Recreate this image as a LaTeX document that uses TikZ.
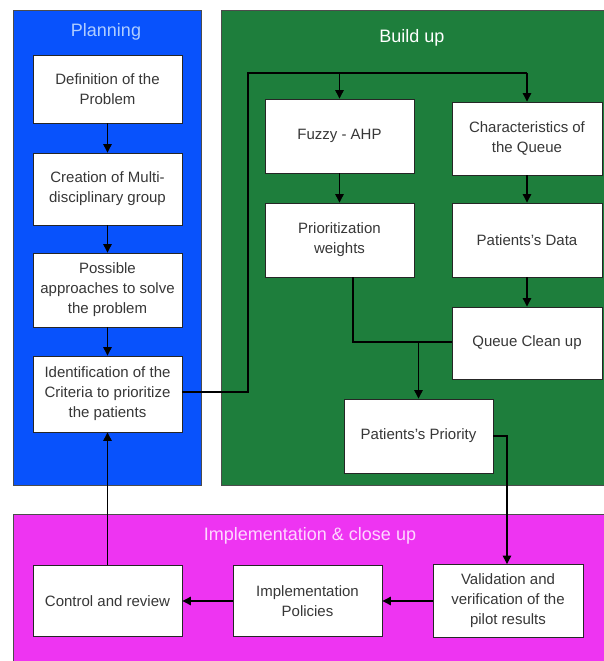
\documentclass[tikz,border=0pt]{standalone}
\usepackage{fontspec}
\setmainfont{Liberation Sans}
\usetikzlibrary{arrows.meta}
\definecolor{planblue}{RGB}{8,82,252}
\definecolor{buildgreen}{RGB}{30,126,60}
\definecolor{implmag}{RGB}{238,52,242}
\definecolor{boxtext}{RGB}{55,55,55}
\definecolor{titleblue}{RGB}{175,205,255}
\definecolor{titlepink}{RGB}{255,215,255}
\begin{document}
\begin{tikzpicture}[x=1pt,y=-1pt,
  panel/.style={draw=black!70,line width=0.8pt},
  stepbox/.style={draw=black!85,fill=white,line width=0.9pt,minimum width=149pt,
    align=center,text=boxtext,font=\fontsize{15}{20}\selectfont,inner sep=2pt},
  paneltitle/.style={font=\fontsize{18}{22}\selectfont},
  link/.style={draw=black,line width=1.2pt},
  arr/.style={link,-{Triangle[length=8.5pt,width=8.5pt]}}]
\useasboundingbox (0,0) rectangle (604,661);
\fill[white] (0,0) rectangle (604,661);

% phase panels
\draw[panel,fill=planblue] (13,10) rectangle (201,485);
\draw[panel,fill=buildgreen] (221,10) rectangle (608,485);
\draw[panel,fill=implmag] (13,514) rectangle (608,666);

\node[paneltitle,text=titleblue] (tplan) at (106,32) {Planning};
\node[paneltitle,text=white] (tbuild) at (412,38) {Build up};
\node[paneltitle,text=titlepink] (timpl) at (310,536) {Implementation \& close up};

% planning steps
\node[stepbox,minimum height=68pt] (def) at (107.5,89) {Definition of the\\Problem};
\node[stepbox,minimum height=72pt] (create) at (107.5,189) {Creation of Multi-\\disciplinary group};
\node[stepbox,minimum height=74pt] (poss) at (107.5,290) {Possible\\approaches to solve\\the problem};
\node[stepbox,minimum height=76pt] (ident) at (107.5,394) {Identification of the\\Criteria to prioritize\\the patients};

% build-up steps
\node[stepbox,minimum height=74pt] (fuzzy) at (339.5,136) {Fuzzy - AHP};
\node[stepbox,minimum width=150pt,minimum height=73pt] (charq) at (527,138.5) {Characteristics of\\the Queue};
\node[stepbox,minimum height=74pt] (prio) at (339.5,240) {Prioritization\\weights};
\node[stepbox,minimum width=150pt,minimum height=74pt] (pdata) at (527,240) {Patients's Data};
\node[stepbox,minimum width=150pt,minimum height=72pt] (clean) at (527,343) {Queue Clean up};
\node[stepbox,minimum height=74pt] (ppri) at (418.5,436) {Patients's Priority};

% implementation steps
\node[stepbox,minimum height=71pt] (ctrl) at (107.5,601) {Control and review};
\node[stepbox,minimum height=71pt] (impl) at (307.5,601) {Implementation\\Policies};
\node[stepbox,minimum width=150pt,minimum height=73pt] (valid) at (508,601) {Validation and\\verification of the\\pilot results};

% junction points
\coordinate (jl) at (248,73);
\coordinate (jf) at (339.5,73);
\coordinate (jc) at (527,73);
\coordinate (jm) at (418.5,342);

% planning chain
\draw[arr] (def) -- (create);
\draw[arr] (create) -- (poss);
\draw[arr] (poss) -- (ident);

% criteria feed the build-up phase
\draw[link] (ident.east |- 0,392) -- (248,392) -- (jl) -- (jc);
\draw[arr] (jc) -- (charq.north);
\draw[arr] (jf) -- (fuzzy.north);

\draw[arr] (fuzzy) -- (prio);
\draw[arr] (charq) -- (pdata);
\draw[arr] (pdata) -- (clean);

\draw[link] (353,0 |- prio.south) -- (353,342) -- (clean.west |- 0,342);
\draw[arr] (jm) -- (ppri.north);

% priority to validation
\draw[arr] (ppri.east) -- (507,436) -- (507,0 |- valid.north);

% implementation chain and feedback
\draw[arr] (valid) -- (impl);
\draw[arr] (impl) -- (ctrl);
\draw[arr] (ctrl) -- (ident);
\end{tikzpicture}
\end{document}
